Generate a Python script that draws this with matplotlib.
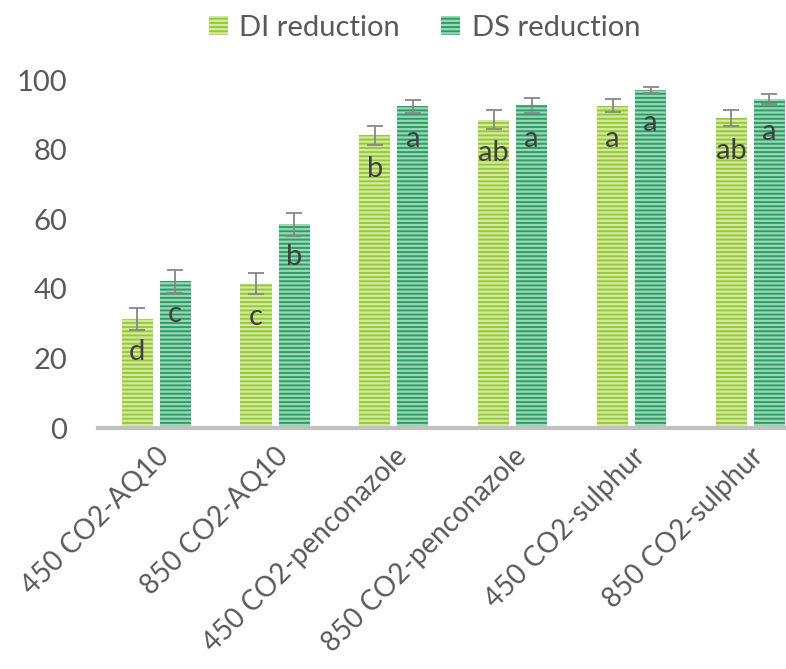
import matplotlib.pyplot as plt
import numpy as np

plt.rcParams['font.family'] = ['Lato', 'DejaVu Sans']
plt.rcParams['hatch.linewidth'] = 1.4

treatments = ['450 CO2-AQ10', '850 CO2-AQ10', '450 CO2-penconazole',
              '850 CO2-penconazole', '450 CO2-sulphur', '850 CO2-sulphur']
di_vals = [31.3, 41.5, 84.1, 88.6, 92.6, 89.1]
di_err = [3.2, 3.0, 2.8, 2.8, 1.9, 2.4]
di_letters = ['d', 'c', 'b', 'ab', 'a', 'ab']
ds_vals = [42.2, 58.6, 92.5, 92.7, 97.1, 94.6]
ds_err = [3.3, 3.3, 1.9, 2.2, 0.9, 1.5]
ds_letters = ['c', 'b', 'a', 'a', 'a', 'a']

txt = '#595959'
fig = plt.figure(figsize=(7.86, 6.69), dpi=100)
ax = fig.add_axes([0.1247, 0.3602, 0.8753, 0.5202])

x = np.arange(len(treatments))
w = 0.262
off = 0.16

series = [
    ('DI reduction', di_vals, di_err, di_letters, -off, '#d3eaa0', '#96c93a'),
    ('DS reduction', ds_vals, ds_err, ds_letters, off, '#9ad8b5', '#2e9c66'),
]
for name, vals, err, letters, dx, light, dark in series:
    ax.bar(x + dx, vals, w, facecolor=light, edgecolor=dark, hatch='----',
           linewidth=0, label=name)
    ax.errorbar(x + dx, vals, yerr=err, fmt='none', ecolor='#878787',
                elinewidth=1.3, capsize=5.5, capthick=1.3)
    for xi, v, s in zip(x + dx, vals, letters):
        ax.annotate(s, (xi, v), xytext=(0, -24), textcoords='offset points',
                    ha='center', va='center', fontsize=21, color='#404040')

ax.set_xlim(-0.49, 5.3)
ax.set_ylim(0, 100)
ax.set_yticks(range(0, 101, 20))
ax.set_xticks(x)
ax.set_xticklabels(treatments, rotation=45, ha='right', rotation_mode='anchor')
ax.tick_params(axis='y', length=0, labelsize=21, labelcolor=txt, pad=22)
ax.tick_params(axis='x', length=0, labelsize=20, labelcolor=txt, pad=11)
for sp in ['top', 'right', 'left']:
    ax.spines[sp].set_visible(False)
ax.spines['bottom'].set_color('#c0c0c0')
ax.spines['bottom'].set_linewidth(3)

leg = fig.legend(loc='upper center', bbox_to_anchor=(0.54, 1.0), ncol=2,
                 frameon=False, fontsize=21, handlelength=0.65, handleheight=0.65,
                 handletextpad=0.4, columnspacing=1.4, borderaxespad=0.1)
for t in leg.get_texts():
    t.set_color(txt)

fig.savefig('out.png', dpi=100)
